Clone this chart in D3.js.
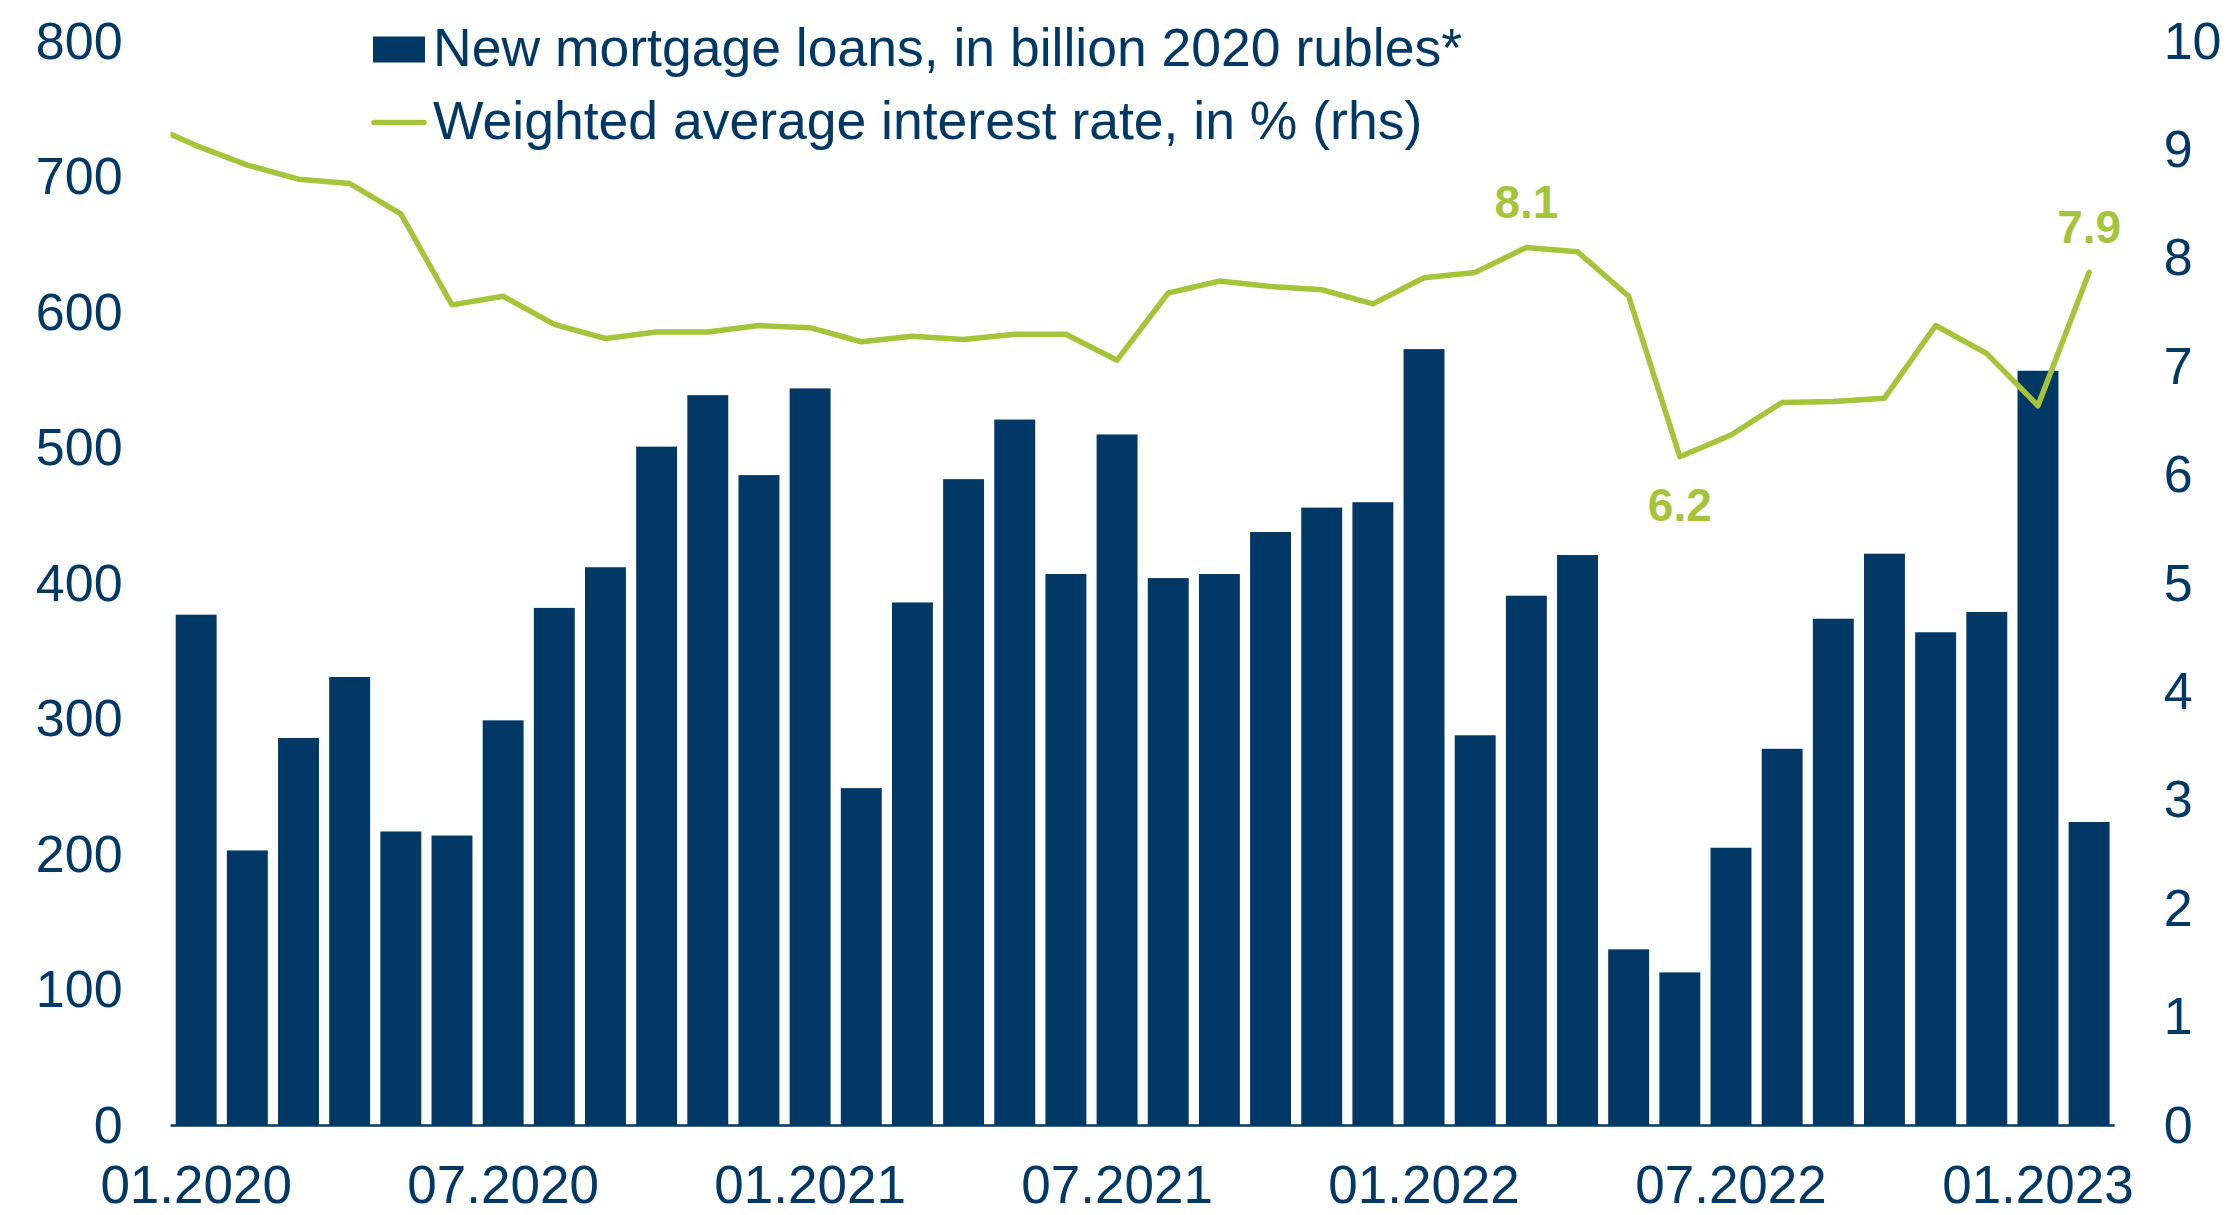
<!DOCTYPE html>
<html>
<head>
<meta charset="utf-8">
<script src="https://cdn.jsdelivr.net/npm/d3@7"></script>
<style>
  html, body { margin: 0; padding: 0; background: #ffffff; }
  svg { display: block; }
  text { font-family: "Liberation Sans", Arial, sans-serif; }
</style>
</head>
<body>
<svg id="chart" width="2233" height="1215"></svg>
<script>
// ---- data ----
const months = [
  "01.2020","02.2020","03.2020","04.2020","05.2020","06.2020","07.2020","08.2020","09.2020","10.2020","11.2020","12.2020",
  "01.2021","02.2021","03.2021","04.2021","05.2021","06.2021","07.2021","08.2021","09.2021","10.2021","11.2021","12.2021",
  "01.2022","02.2022","03.2022","04.2022","05.2022","06.2022","07.2022","08.2022","09.2022","10.2022","11.2022","12.2022",
  "01.2023","02.2023"
];
const loans = [
  377, 203, 286, 331, 217, 214, 299, 382, 412, 501, 539, 480,
  544, 249, 386, 477, 521, 407, 510, 404, 407, 438, 456, 460,
  573, 288, 391, 421, 130, 113, 205, 278, 374, 422, 364, 379,
  557, 224
];
const rates = [
  9.04, 8.86, 8.73, 8.69, 8.41, 7.57, 7.65, 7.39, 7.26, 7.32, 7.32, 7.38,
  7.36, 7.23, 7.28, 7.25, 7.30, 7.30, 7.06, 7.68, 7.79, 7.74, 7.71, 7.58,
  7.82, 7.87, 8.10, 8.06, 7.65, 6.17, 6.37, 6.67, 6.68, 6.71, 7.38, 7.12,
  6.64, 7.87
];
// preceding month (12.2019), only partly visible at the left edge
const ratePrev = 9.25;
const xTickLabels = ["01.2020","07.2020","01.2021","07.2021","01.2022","07.2022","01.2023"];
const leftTicks = [0, 100, 200, 300, 400, 500, 600, 700, 800];
const rightTicks = [0, 1, 2, 3, 4, 5, 6, 7, 8, 9, 10];
const rateLabels = [
  { month: "03.2022", text: "8.1", side: "above" },
  { month: "06.2022", text: "6.2", side: "below" },
  { month: "02.2023", text: "7.9", side: "above" }
];
const legendItems = [
  { type: "bar",  label: "New mortgage loans, in billion 2020 rubles*" },
  { type: "line", label: "Weighted average interest rate, in % (rhs)" }
];

// ---- style ----
const NAVY = "#023865";
const GREEN = "#a5c43a";
const FONT = 52;

const svg = d3.select("#chart");
const X0 = 170.6, X1 = 2114.7, Y0 = 1125.5, Y1 = 41.5;

const x = d3.scaleBand().domain(months).range([X0, X1]).paddingInner(0.2).paddingOuter(0.1);
const yL = d3.scaleLinear().domain([0, 800]).range([Y0, Y1]);
const yR = d3.scaleLinear().domain([0, 10]).range([Y0, Y1]);

// bars
svg.append("g").selectAll("rect").data(loans).join("rect")
  .attr("x", (d, i) => x(months[i]))
  .attr("width", x.bandwidth())
  .attr("y", d => yL(d))
  .attr("height", d => yL(0) - yL(d))
  .attr("fill", NAVY);

// baseline
svg.append("line")
  .attr("x1", X0).attr("x2", X1)
  .attr("y1", yL(0)).attr("y2", yL(0))
  .attr("stroke", NAVY).attr("stroke-width", 2.5);

// line
svg.append("clipPath").attr("id", "plotclip").append("rect")
  .attr("x", X0).attr("y", 0).attr("width", X1 - X0).attr("height", 1215);
const cx = m => x(m) + x.bandwidth() / 2;
const step = x.step();
const linePts = [[cx(months[0]) - step, yR(ratePrev)]].concat(rates.map((r, i) => [cx(months[i]), yR(r)]));
svg.append("path")
  .attr("clip-path", "url(#plotclip)")
  .attr("d", d3.line()(linePts))
  .attr("fill", "none")
  .attr("stroke", GREEN)
  .attr("stroke-width", 5.5)
  .attr("stroke-linejoin", "round")
  .attr("stroke-linecap", "round");

// rate labels
svg.append("g").selectAll("text").data(rateLabels).join("text")
  .attr("x", d => cx(d.month))
  .attr("y", d => {
    const v = rates[months.indexOf(d.month)];
    return d.side === "above" ? yR(v) - 29 : yR(v) + 64;
  })
  .attr("text-anchor", "middle")
  .attr("font-size", 46)
  .attr("font-weight", "bold")
  .attr("fill", GREEN)
  .text(d => d.text);

// left axis
const gL = svg.append("g").attr("transform", `translate(${X0},0)`)
  .call(d3.axisLeft(yL).tickValues(leftTicks).tickSize(0).tickPadding(48).tickFormat(d3.format("d")));
gL.select(".domain").remove();
gL.selectAll("text").attr("font-size", FONT).attr("fill", NAVY).attr("font-family", "Liberation Sans, Arial, sans-serif");

// right axis
const gR = svg.append("g").attr("transform", `translate(${X1},0)`)
  .call(d3.axisRight(yR).tickValues(rightTicks).tickSize(0).tickPadding(49).tickFormat(d3.format("d")));
gR.select(".domain").remove();
gR.selectAll("text").attr("font-size", FONT).attr("fill", NAVY).attr("font-family", "Liberation Sans, Arial, sans-serif");

// x axis
const gX = svg.append("g").attr("transform", `translate(0,${Y0})`)
  .call(d3.axisBottom(x).tickValues(xTickLabels).tickSize(0).tickPadding(40));
gX.select(".domain").remove();
gX.selectAll("text").attr("font-size", 53).attr("fill", NAVY).attr("font-family", "Liberation Sans, Arial, sans-serif");

// legend
const lg = svg.append("g").attr("transform", "translate(373,0)");
legendItems.forEach((it, i) => {
  const cy = 49.5 + i * 73;
  if (it.type === "bar") {
    lg.append("rect").attr("x", 0).attr("y", cy - 13).attr("width", 52).attr("height", 26).attr("fill", NAVY);
  } else {
    lg.append("line").attr("x1", 1).attr("x2", 51).attr("y1", cy).attr("y2", cy)
      .attr("stroke", GREEN).attr("stroke-width", 5.5).attr("stroke-linecap", "round");
  }
  lg.append("text").attr("x", 60).attr("y", cy + 16)
    .attr("font-size", 53.5).attr("fill", NAVY).text(it.label);
});
</script>
</body>
</html>
